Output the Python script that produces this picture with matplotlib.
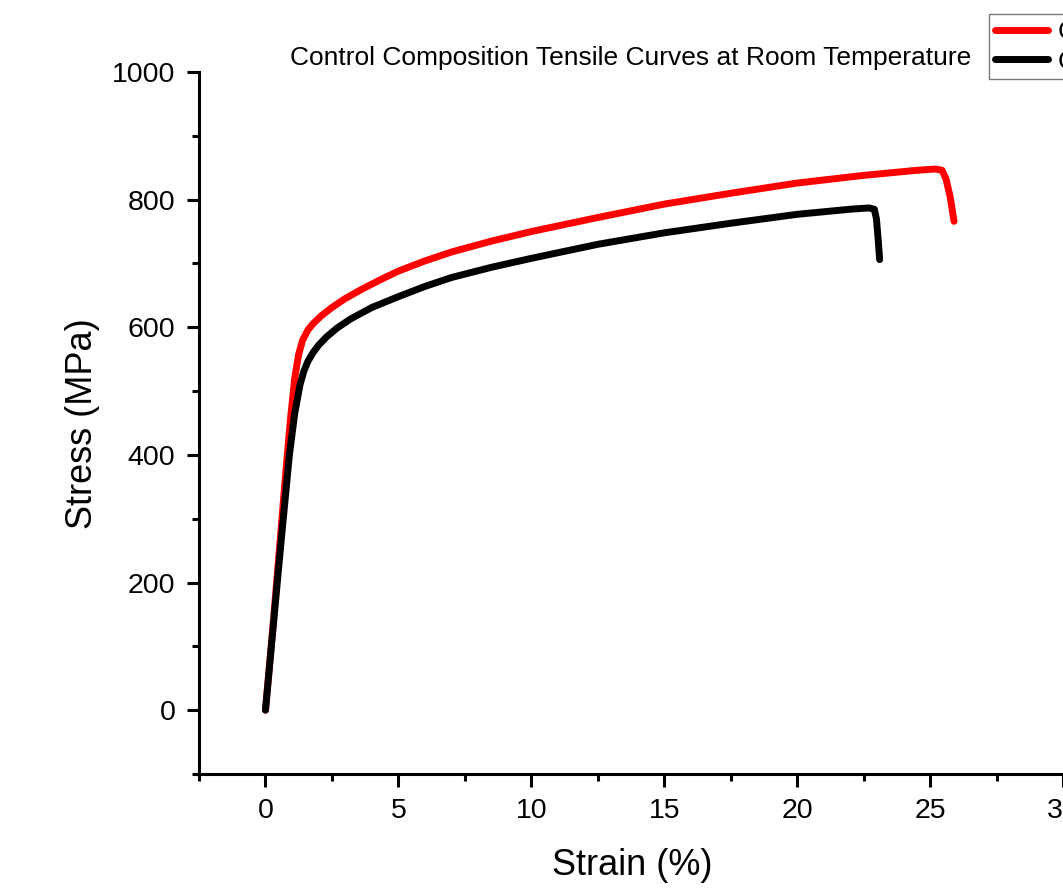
import matplotlib
matplotlib.use("Agg")
import matplotlib.pyplot as plt
from matplotlib.ticker import MultipleLocator

plt.rcParams['font.family'] = ['Liberation Sans', 'DejaVu Sans']

# Data (strain in %, stress in MPa)
red_strain = [0.0, 0.3, 0.6, 0.8, 0.95, 1.1, 1.25, 1.4, 1.6, 1.8, 2.1, 2.5, 3.0,
              3.6, 4.3, 5.0, 6.0, 7.0, 8.5, 10.0, 12.5, 15.0, 17.5, 20.0, 22.5,
              24.5, 25.2, 25.45, 25.6, 25.75, 25.9]
red_stress = [0, 140, 290, 390, 460, 520, 558, 580, 596, 606, 618, 631, 645,
              659, 674, 688, 704, 718, 735, 750, 772, 793, 810, 826, 838,
              846, 848, 846, 832, 805, 766]

black_strain = [0.0, 0.3, 0.6, 0.9, 1.1, 1.3, 1.45, 1.6, 1.8, 2.0, 2.3, 2.7, 3.2,
                4.0, 5.0, 6.0, 7.0, 8.5, 10.0, 12.5, 15.0, 17.5, 20.0, 22.0,
                22.7, 22.9, 22.98, 23.05, 23.1]
black_stress = [0, 135, 270, 400, 465, 510, 532, 547, 561, 572, 585, 599, 613,
                631, 648, 664, 678, 694, 708, 730, 748, 763, 777, 785,
                787, 785, 770, 735, 706]

labels = ["Control 1", "Control 2"]
title = "Control Composition Tensile Curves at Room Temperature"
xlabel = "Strain (%)"
ylabel = "Stress (MPa)"

W, H = 1063, 888
fig = plt.figure(figsize=(W / 100, H / 100), dpi=100)

left_px, bottom_px, top_px = 199, 774, 72
x0_px, x_per_unit = 265, 26.6
xmin, xmax = -2.5, 35
right_px = x0_px + x_per_unit * xmax
ax = fig.add_axes([left_px / W, 1 - bottom_px / H,
                   (right_px - left_px) / W, (bottom_px - top_px) / H])

ax.plot(red_strain, red_stress, color='#ff0000', lw=5, solid_capstyle='round',
        solid_joinstyle='round', label=labels[0])
ax.plot(black_strain, black_stress, color='black', lw=5, solid_capstyle='round',
        solid_joinstyle='round', label=labels[1])

ax.set_xlim(xmin, xmax)
ax.set_ylim(-100, 1000)
ax.xaxis.set_major_locator(MultipleLocator(5))
ax.xaxis.set_minor_locator(MultipleLocator(2.5))
ax.yaxis.set_major_locator(MultipleLocator(200))
ax.yaxis.set_minor_locator(MultipleLocator(100))

ax.spines['top'].set_visible(False)
for s in ['left', 'bottom', 'right']:
    ax.spines[s].set_linewidth(2.2)

ax.tick_params(which='major', direction='out', length=9, width=2.2, labelsize=20.5, pad=8)
ax.tick_params(which='minor', direction='out', length=5, width=2.2)
ax.tick_params(top=False, right=False, which='both')

ax.set_xlabel(xlabel, fontsize=26)
ax.set_ylabel(ylabel, fontsize=26)
ax.xaxis.set_label_coords(632 / W, 1 - 865 / H, transform=fig.transFigure)
ax.xaxis.label.set_va('center')
ax.yaxis.set_label_coords(83 / W, 1 - 424 / H, transform=fig.transFigure)
ax.yaxis.label.set_va('center')

fig.text(631 / W, 1 - 58 / H, title, fontsize=19, ha='center', va='center')

leg = fig.legend(loc='upper left', bbox_to_anchor=(989 / W, 1 - 14 / H),
                 bbox_transform=fig.transFigure, fontsize=19, frameon=True,
                 fancybox=False, handlelength=2.0, handletextpad=0.4,
                 labelspacing=0.22, borderpad=0.22, borderaxespad=0)
leg.get_frame().set_edgecolor('#555555')
leg.get_frame().set_linewidth(1.0)

fig.savefig('out.png', dpi=100)
